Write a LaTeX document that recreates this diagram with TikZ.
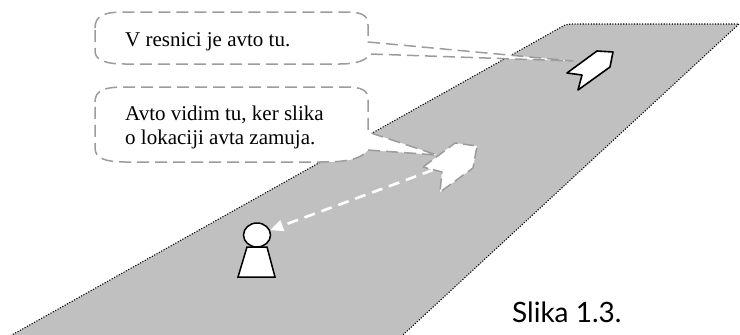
\documentclass[tikz,border=0pt]{standalone}
\usepackage{fontspec}
\setmainfont{Liberation Serif}
\newfontfamily\capfont{Lato}
\usetikzlibrary{arrows.meta,shapes.geometric}
\definecolor{roadgray}{HTML}{C0C0C0}
\definecolor{bubblegray}{HTML}{9C9C9C}
\tikzset{
  road/.style={fill=roadgray, draw=black, line width=1.1pt, dash pattern=on 1.1pt off 1.6pt},
  bubble/.style={fill=white, draw=bubblegray, line width=1.5pt, dash pattern=on 12pt off 6pt, line join=round},
  carshape/.style={fill=white, draw=black, line width=1.6pt, line join=round},
  ghostcar/.style={fill=white, draw=bubblegray, line width=1.5pt, dash pattern=on 11pt off 5pt, line join=round},
  sightline/.style={draw=white, line width=2.6pt, dash pattern=on 11pt off 7pt, -{Triangle[width=11pt,length=13pt,fill=white]}},
  persona/.style={fill=white, draw=black, line width=1.5pt},
  bubbletext/.style={font=\fontsize{21}{24.5}\selectfont, inner sep=0pt, align=left},
  captext/.style={font=\capfont\fontsize{28}{30}\selectfont, inner sep=0pt}
}
\begin{document}
\begin{tikzpicture}[x=1pt,y=-1pt]
\useasboundingbox (0,0) rectangle (740,335);
% road
\draw[road] (-6,345) -- (565,25) [rounded corners=3pt] -- (570,24) [sharp corners] -- (739,24) -- (392,345);
% bubble 1
\draw[bubble] (95,28) .. controls (95,15) and (105,12) .. (125,12) -- (345,12)
  .. controls (362,12) and (368,15) .. (368,25) -- (368,42) -- (573,61) -- (370,54)
  .. controls (366,61) and (355,64) .. (340,64) -- (125,64)
  .. controls (105,64) and (95,60) .. (95,51) -- cycle;
\node[bubbletext, anchor=base west] (t1) at (125,46.5) {V resnici je avto tu.};
% bubble 2
\draw[bubble] (95,102) .. controls (95,90) and (105,87) .. (125,87) -- (345,87)
  .. controls (362,87) and (368,90) .. (368,100) -- (368,132) -- (437,155) -- (368,150)
  .. controls (360,160) and (345,162) .. (320,162) -- (125,162)
  .. controls (105,162) and (95,158) .. (95,148) -- cycle;
\node[bubbletext, anchor=west] (t2) at (125,127.3) {Avto vidim tu, ker slika\\o lokaciji avta zamuja.};
% real car
\draw[carshape] (567,73) -- (597,51) -- (613,52) -- (610,67) -- (578,90) -- (582,75) -- cycle;
% seen car
\draw[ghostcar] (423,167) -- (455,143) -- (477,146) -- (473,168) -- (440,192) -- (442,172) -- cycle;
\coordinate (carB) at (433,170);
% person
\draw[persona] (247,247) -- (267,247) -- (275,277) -- (238,277) -- cycle;
\node[persona, ellipse, minimum width=27pt, minimum height=24pt, inner sep=0pt] (head) at (257,235) {};
% line of sight
\draw[sightline] (carB) -- (head);
% caption
\node[captext, anchor=base west] (cap) at (512,322) {Slika 1.3.};
\end{tikzpicture}
\end{document}
